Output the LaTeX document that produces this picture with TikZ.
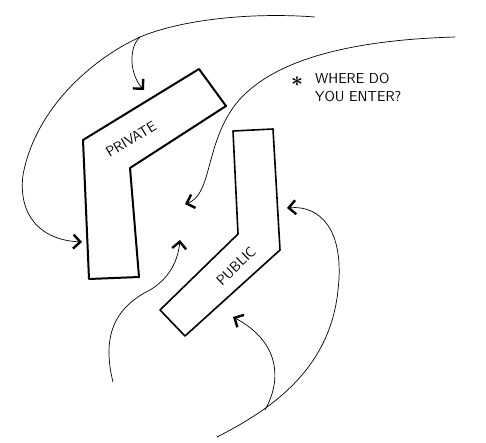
\documentclass[tikz,border=0pt]{standalone}
\usepackage{amsmath}
\usepackage{tikz}
\usetikzlibrary{arrows.meta}

\begin{document}
\begin{tikzpicture}[x=1pt, y=-1pt,
    >={Straight Barb[length=7pt, width=14pt, line width=2.4pt]},
    wall/.style={line width=1.6pt, line join=round},
    flow/.style={->, line width=0.7pt},
    tag/.style={font=\sffamily\Large, inner sep=0pt}]
  \useasboundingbox (0,0) rectangle (486,442);

  % Die beiden Winkel
  \draw[wall, line width=2pt] (89,279) -- (83,140) -- (199,69) -- (226,106)
    -- (130,168) -- (139,277) -- cycle;
  \draw[wall] (233,131) -- (273,129) -- (280,250) -- (185,336)
    -- (160,310) -- (238,234) -- cycle;
  \node[tag, rotate=31] (private) at (131,139) {PRIVATE};
  \node[tag, rotate=44] (public) at (236,266) {PUBLIC};

  % Frage
  \node[font=\huge, inner sep=0pt] (star) at (297,82) {$\boldsymbol{\ast}$};
  \node[tag, align=left, anchor=west] (ask) at (315,88) {WHERE DO\\YOU ENTER?};

  % Punkte
  \coordinate (topfree) at (315,17);
  \coordinate (fork) at (140,37);
  \coordinate (privtop) at (144,90);
  \coordinate (privleft) at (82,242);
  \coordinate (rightfree) at (455,37);
  \coordinate (gap) at (185,204);
  \coordinate (lowfree) at (113,382);
  \coordinate (gapin) at (180,240);
  \coordinate (bottomfree) at (217,437);
  \coordinate (pubright) at (287,208);
  \coordinate (split) at (265,410);
  \coordinate (pubbottom) at (233,317);

  % Wege
  \draw[flow] (topfree) .. controls (250,12) and (180,20) .. (fork)
    .. controls (128,48) and (130,75) .. (privtop);
  \draw[flow] (fork) .. controls (90,60) and (35,110) .. (23,175)
    .. controls (18,215) and (40,240) .. (privleft);
  \draw[flow] (rightfree) .. controls (350,40) and (270,60) .. (235,105)
    .. controls (205,145) and (212,195) .. (gap);
  \draw[flow] (lowfree) .. controls (100,330) and (120,305) .. (150,290)
    .. controls (170,278) and (178,260) .. (gapin);
  \draw[flow] (bottomfree) .. controls (270,410) and (330,370) .. (338,290)
    .. controls (345,230) and (320,205) .. (pubright);
  \draw[flow] (split) .. controls (282,380) and (280,342) .. (pubbottom);
\end{tikzpicture}
\end{document}
